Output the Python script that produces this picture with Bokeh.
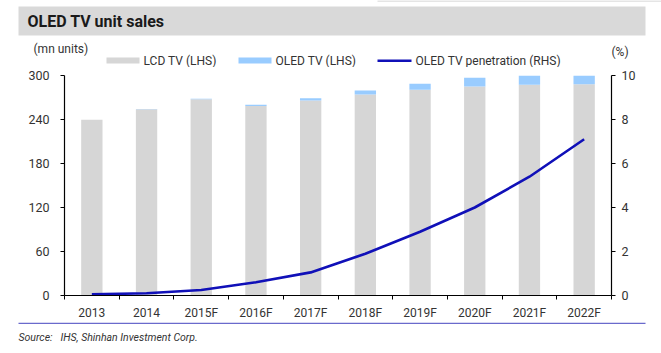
from bokeh.plotting import figure
from bokeh.layouts import column
from bokeh.models import (ColumnDataSource, Range1d, LinearAxis, FixedTicker,
                          Label, BoxAnnotation)
from bokeh.embed import file_html
from bokeh.resources import INLINE

# ---- data ----
years = ["2013", "2014", "2015F", "2016F", "2017F", "2018F", "2019F", "2020F", "2021F", "2022F"]
lcd_tv = [239.5, 254.0, 267.5, 258.5, 266.0, 274.0, 280.5, 285.0, 287.5, 288.0]
oled_tv = [0.2, 0.4, 0.9, 1.5, 2.9, 5.6, 8.3, 11.8, 15.8, 20.5]
penetration = [0.05, 0.1, 0.25, 0.6, 1.05, 1.9, 2.9, 4.0, 5.4, 7.1]
left_ticks = [0, 60, 120, 180, 240, 300]
right_ticks = [0, 2, 4, 6, 8, 10]

FONT = "Roboto"
TXT = "#333333"
LCD_C = "#d6d6d6"
OLED_C = "#99ccff"
LINE_C = "#1010b8"
W = 661


def no_align(f):
    try:
        f.frame_align = False
    except Exception:
        pass


def blank(height):
    f = figure(width=W, height=height, output_backend="svg", toolbar_location=None,
               x_range=Range1d(0, W), y_range=Range1d(height, 0),
               x_axis_type=None, y_axis_type=None,
               min_border=0, min_border_left=0, min_border_right=0,
               min_border_top=0, min_border_bottom=0)
    f.outline_line_color = None
    f.xgrid.visible = False
    f.ygrid.visible = False
    f.background_fill_color = "white"
    f.border_fill_color = "white"
    no_align(f)
    return f


def box(f, l, r, t, b, color):
    f.add_layout(BoxAnnotation(left=l, right=r, top=t, bottom=b,
                               fill_color=color, fill_alpha=1, line_color=None))


def label(f, x, y, text, size, style="normal", align="left", color=TXT):
    f.add_layout(Label(x=x, y=y, text=text, text_font=FONT, text_font_size=size,
                       text_color=color, text_font_style=style, text_align=align,
                       text_baseline="middle"))


# ---------------- header ----------------
HEAD_H = 67
head = blank(HEAD_H)
box(head, 18, 645, 6, 35, "#d9d9d9")
box(head, 377, 661, 0, 1, "#cccccc")
label(head, 27, 21, "OLED TV unit sales", "16px", style="bold", color="#1a1a1a")
label(head, 33, 48, "(mn units)", "12px")
label(head, 611, 51, "(%)", "12px")
box(head, 106, 139, 57, 63, LCD_C)
label(head, 143, 60, "LCD TV (LHS)", "12px")
box(head, 238, 271, 57, 63, OLED_C)
label(head, 275, 60, "OLED TV (LHS)", "12px")
box(head, 377, 411, 59, 61.5, LINE_C)
label(head, 415, 60, "OLED TV penetration (RHS)", "12px")

# ---------------- main chart ----------------
n = len(years)
centers = [i + 0.5 for i in range(n)]
bounds = [i for i in range(n + 1)]
src = ColumnDataSource(dict(x=centers, lcd=lcd_tv, oled=oled_tv, pen=penetration))

MAIN_H = 255
p = figure(width=W, height=MAIN_H, output_backend="svg", toolbar_location=None,
           x_range=Range1d(0, n), y_range=Range1d(0, 300),
           min_border_left=64, min_border_right=50, min_border_top=8, min_border_bottom=26)
p.outline_line_color = None
p.xgrid.visible = False
p.ygrid.visible = False
p.background_fill_color = "white"
p.border_fill_color = "white"
p.extra_y_ranges = {"pct": Range1d(0, 10)}
no_align(p)

p.vbar_stack(["lcd", "oled"], x="x", width=0.39, source=src,
             color=[LCD_C, OLED_C], line_color=None)
p.line("x", "pen", source=src, y_range_name="pct", line_color=LINE_C, line_width=2.6)

xa = p.xaxis[0]
xa.ticker = FixedTicker(ticks=centers, minor_ticks=bounds)
xa.major_label_overrides = {c: y for c, y in zip(centers, years)}
xa.major_tick_out = 0
xa.major_tick_in = 0
xa.minor_tick_out = 4
xa.minor_tick_in = 0
xa.minor_tick_line_color = "black"
xa.axis_line_color = "black"
xa.axis_line_width = 1.2
xa.major_label_standoff = 6
xa.major_label_text_font = FONT
xa.major_label_text_font_size = "12px"
xa.major_label_text_color = TXT

ya = p.yaxis[0]
ya.ticker = FixedTicker(ticks=left_ticks)
ya.minor_tick_line_color = None
ya.major_tick_out = 4
ya.major_tick_in = 0
ya.axis_line_color = "black"
ya.axis_line_width = 1.2
ya.major_label_standoff = 11
ya.major_label_text_font = FONT
ya.major_label_text_font_size = "12.5px"
ya.major_label_text_color = TXT

ra = LinearAxis(y_range_name="pct", ticker=FixedTicker(ticks=right_ticks))
ra.minor_tick_line_color = None
ra.major_tick_out = 4
ra.major_tick_in = 0
ra.axis_line_color = "black"
ra.axis_line_width = 1.2
ra.major_label_standoff = 6
ra.major_label_text_font = FONT
ra.major_label_text_font_size = "12.5px"
ra.major_label_text_color = TXT
p.add_layout(ra, "right")

# ---------------- footer ----------------
FOOT_H = 353 - HEAD_H - MAIN_H
foot = blank(FOOT_H)
box(foot, 18, 645, 0, 1.5, "#6a6acc")
label(foot, 18, 15, "Source:", "10.5px", style="italic")
label(foot, 60, 15, "IHS, Shinhan Investment Corp.", "10.5px", style="italic")

layout = column(head, p, foot, spacing=0)
open("out.html", "w").write(file_html(layout, INLINE))
